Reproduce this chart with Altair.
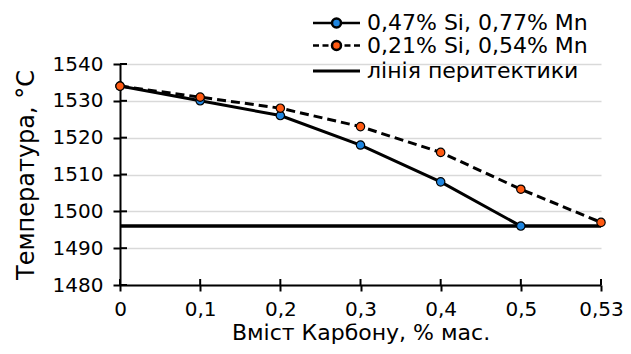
import altair as alt
import pandas as pd

# ---- data ----
categories = ["0", "0,1", "0,2", "0,3", "0,4", "0,5", "0,53"]
s1_name = "0,47% Si, 0,77% Mn"
s2_name = "0,21% Si, 0,54% Mn"
peri_name = "лінія перитектики"
s1_c = ["0", "0,1", "0,2", "0,3", "0,4", "0,5"]
s1_t = [1534, 1530, 1526, 1518, 1508, 1496]
s2_c = ["0", "0,1", "0,2", "0,3", "0,4", "0,5", "0,53"]
s2_t = [1534, 1531, 1528, 1523, 1516, 1506, 1497]
peri_c = ["0", "0,53"]
peri_t = [1496, 1496]
y_ticks = [1480, 1490, 1500, 1510, 1520, 1530, 1540]

s1_df = pd.DataFrame({"c": s1_c, "t": s1_t, "s": [s1_name] * len(s1_c)})
s2_df = pd.DataFrame({"c": s2_c, "t": s2_t, "s": [s2_name] * len(s2_c)})
peri_df = pd.DataFrame({"c": peri_c, "t": peri_t, "s": [peri_name] * len(peri_c)})
ytick_df = pd.DataFrame({"t": y_ticks})
xtick_df = pd.DataFrame({"c": categories})

FONT = "DejaVu Sans"
BLUE = "#1f86e0"
ORANGE = "#ff5a12"
W, H = 481, 221

xscale = alt.Scale(type="point", domain=categories, padding=0)
yscale = alt.Scale(domain=[1480, 1540], nice=False, zero=False)
xaxis = alt.Axis(title="Вміст Карбону, % мас.", labelAngle=0, tickSize=6, labelPadding=8,
                 titlePadding=3, titleFontSize=22, grid=False, labelOverlap=False)
yaxis = alt.Axis(title="Температура, °С", values=y_ticks, format="d", tickSize=7, labelPadding=10,
                 titlePadding=14, titleFontSize=24, grid=True)


def X():
    return alt.X("c:O", scale=xscale, axis=xaxis, sort=categories)


def Y():
    return alt.Y("t:Q", scale=yscale, axis=yaxis)


P1 = "M-2.35,0H-0.45M0.45,0H2.35M0.45,0A0.45,0.45,0,1,1,-0.45,0A0.45,0.45,0,1,1,0.45,0Z"
P2 = ("M-2.35,0H-1.75M-1.4,0H-0.8M0.8,0H1.4M1.75,0H2.35"
      "M0.45,0A0.45,0.45,0,1,1,-0.45,0A0.45,0.45,0,1,1,0.45,0Z")
P3 = "M-2.35,0H2.35"


def legend(shape, y, sw):
    return alt.Legend(
        title=None, orient="none", legendX=205, legendY=y,
        symbolType=shape, symbolSize=400, symbolStrokeWidth=sw, symbolStrokeColor="black",
        labelFont=FONT, labelFontSize=22, labelColor="black", labelLimit=400,
        labelOffset=19, padding=0,
    )


peri = alt.Chart(peri_df).mark_line(strokeWidth=3.5).encode(
    x=X(), y=Y(),
    color=alt.Color("s:N", scale=alt.Scale(domain=[peri_name], range=["black"]),
                    legend=legend(P3, 71 - 64 - 11.5, 3)),
)
line1 = alt.Chart(s1_df).mark_line(color="black", strokeWidth=3).encode(x=X(), y=Y())
line2 = alt.Chart(s2_df).mark_line(color="black", strokeWidth=3, strokeDash=[9, 5]).encode(x=X(), y=Y())
pts1 = alt.Chart(s1_df).mark_point(filled=True, size=70, stroke="black", strokeWidth=1.2, opacity=1).encode(
    x=X(), y=Y(),
    fill=alt.Fill("s:N", scale=alt.Scale(domain=[s1_name], range=[BLUE]),
                  legend=legend(P1, 23 - 64 - 11.5, 2.5)),
)
pts2 = alt.Chart(s2_df).mark_point(filled=True, size=70, stroke="black", strokeWidth=1.2, opacity=1).encode(
    x=X(), y=Y(),
    fill=alt.Fill("s:N", scale=alt.Scale(domain=[s2_name], range=[ORANGE]),
                  legend=legend(P2, 45.5 - 64 - 11.5, 2.5)),
)
ytk = alt.Chart(ytick_df).mark_rule(color="black", strokeWidth=2).encode(
    y=Y(), x=alt.value(0), x2=alt.value(7))
xtk = alt.Chart(xtick_df).mark_rule(color="black", strokeWidth=2).encode(
    x=X(), y=alt.value(H - 6), y2=alt.value(H))

chart = alt.layer(peri, line1, line2, ytk, xtk, pts1, pts2).resolve_scale(
    fill="independent"
).resolve_legend(
    fill="independent"
).properties(
    width=W, height=H,
    padding={"left": 112, "top": 56, "right": 22, "bottom": 61},
    autosize=alt.AutoSizeParams(type="none"),
).configure_axis(
    labelFont=FONT, labelFontSize=20, labelColor="black",
    titleFont=FONT, titleFontWeight="normal", titleColor="black",
    domainColor="black", domainWidth=2, tickColor="black", tickWidth=2,
    gridColor="#d9d9d9", gridWidth=1.5,
).configure_view(stroke=None)

chart.save("out.html", embed_options={"renderer": "svg", "actions": False})
